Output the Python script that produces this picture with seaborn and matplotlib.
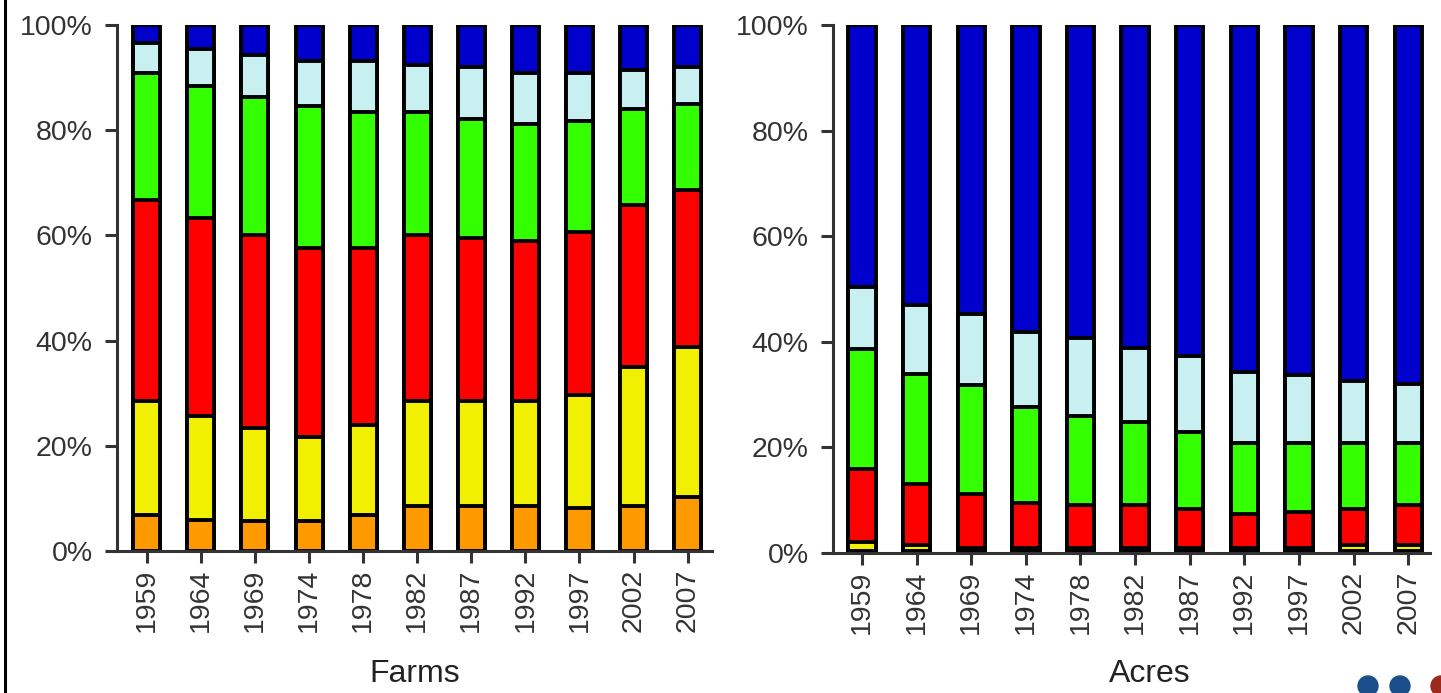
import numpy as np
import pandas as pd
import matplotlib
matplotlib.use("Agg")
import matplotlib.pyplot as plt
from matplotlib.lines import Line2D
from matplotlib.patches import Ellipse
import seaborn as sns

years = ["1959", "1964", "1969", "1974", "1978", "1982",
         "1987", "1992", "1997", "2002", "2007"]

# share of farms per size class (bottom -> top), percent
farms_orange = [6.8, 5.8, 5.7, 5.7, 6.8, 8.6, 8.6, 8.6, 8.2, 8.6, 10.3]
farms_yellow = [21.8, 19.9, 17.7, 16.0, 17.2, 20.0, 20.0, 20.0, 21.5, 26.4, 28.5]
farms_red = [38.2, 37.7, 36.6, 36.0, 33.7, 31.4, 30.9, 30.4, 30.9, 30.8, 29.8]
farms_green = [24.1, 25.1, 26.3, 26.9, 25.8, 23.5, 22.7, 22.1, 21.1, 18.2, 16.4]
farms_cyan = [5.7, 6.9, 8.0, 8.5, 9.6, 8.9, 9.8, 9.7, 9.1, 7.4, 7.0]
farms_blue = [3.4, 4.6, 5.7, 6.9, 6.9, 7.6, 8.0, 9.2, 9.2, 8.6, 8.0]

# share of acres per size class
acres_orange = [0.3, 0.3, 0.3, 0.3, 0.3, 0.3, 0.3, 0.3, 0.3, 0.3, 0.3]
acres_yellow = [1.8, 1.2, 0.6, 0.6, 0.6, 0.6, 0.6, 0.6, 0.6, 1.2, 1.2]
acres_red = [13.8, 11.5, 10.3, 8.6, 8.1, 8.1, 7.5, 6.4, 6.9, 6.9, 7.5]
acres_green = [22.7, 20.9, 20.6, 18.1, 16.9, 15.8, 14.6, 13.5, 13.0, 12.4, 11.8]
acres_cyan = [11.8, 13.1, 13.5, 14.3, 14.8, 14.0, 14.3, 13.5, 12.9, 11.8, 11.2]
acres_blue = [49.6, 53.0, 54.7, 58.1, 59.3, 61.2, 62.7, 65.7, 66.3, 67.4, 68.0]

colors = ["#FF9900", "#F0F000", "#FF0000", "#33FF00", "#C8F0F0", "#0000CC"]

sns.set_style("white")
plt.rcParams["font.family"] = ["Liberation Sans", "DejaVu Sans"]


def stacked(ax, segments):
    # draw cumulative totals from the top down so each layer overlays the next
    cum = np.cumsum(np.array(segments), axis=0)
    for i in range(len(segments) - 1, -1, -1):
        df = pd.DataFrame({"year": years, "val": cum[i]})
        sns.barplot(data=df, x="year", y="val", color=colors[i], saturation=1,
                    width=0.5, edgecolor="black", linewidth=2.8, ax=ax)
    ax.set_ylim(0, 100)
    ax.set_yticks([0, 20, 40, 60, 80, 100])
    ax.set_yticklabels(["0%", "20%", "40%", "60%", "80%", "100%"])
    ax.set_xlabel("")
    ax.set_ylabel("")
    for s in ["top", "right"]:
        ax.spines[s].set_visible(False)
    for s in ["left", "bottom"]:
        ax.spines[s].set_color("#333333")
        ax.spines[s].set_linewidth(2.2)
    ax.tick_params(axis="both", length=8.5, width=2.2, color="#333333",
                   labelsize=20.5, labelcolor="#333333", direction="out")
    ax.tick_params(axis="y", pad=9, left=True)
    ax.tick_params(axis="x", pad=4, labelrotation=90, bottom=True)


fig = plt.figure(figsize=(14.41, 6.93), dpi=100)
ax1 = fig.add_axes([0.0812, 0.2049, 0.4129, 0.7590])
ax2 = fig.add_axes([0.5781, 0.2020, 0.4143, 0.7619])

stacked(ax1, [farms_orange, farms_yellow, farms_red, farms_green, farms_cyan, farms_blue])
stacked(ax2, [acres_orange, acres_yellow, acres_red, acres_green, acres_cyan, acres_blue])
ax1.set_xlim(-0.55, 10.45)
ax2.set_xlim(-0.53, 10.4)

fig.text(0.288, 1 - 674 / 693, "Farms", ha="center", va="center", fontsize=23, color="#222222")
fig.text(0.798, 1 - 674 / 693, "Acres", ha="center", va="center", fontsize=23, color="#222222")

# frame line on the left edge
fig.add_artist(Line2D([0.0035, 0.0035], [0, 1], transform=fig.transFigure,
                      color="black", linewidth=2.2))

# logo dots in the corner
for cx, col in [(1368, "#1c4f8a"), (1400, "#1c4f8a"), (1441, "#9b2a1e")]:
    fig.add_artist(Ellipse((cx / 1441, 1 - 686 / 693), 20 / 1441, 20 / 693,
                           transform=fig.transFigure, color=col))

fig.savefig("out.png", dpi=100)
